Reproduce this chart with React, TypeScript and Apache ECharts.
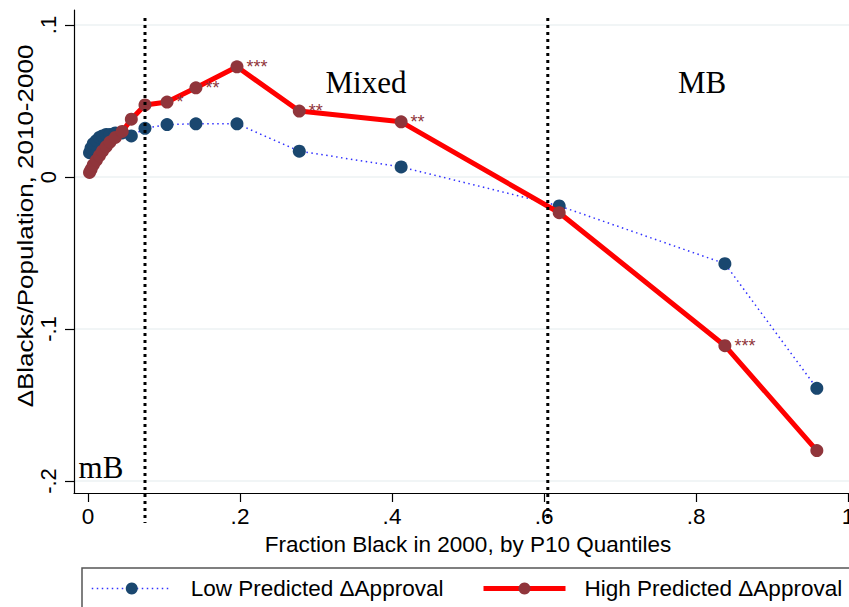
import React, { useEffect, useRef } from "react";
import * as echarts from "echarts";

// ---- data ----
const xValues = [
  0.002, 0.004, 0.007, 0.011, 0.015, 0.019, 0.024, 0.029, 0.036, 0.045,
  0.057, 0.075, 0.104, 0.142, 0.196, 0.278, 0.412, 0.62, 0.838, 0.959,
];
const lowValues = [
  0.016, 0.019, 0.022, 0.024, 0.026, 0.027, 0.028, 0.028, 0.029, 0.029,
  0.027, 0.032, 0.0345, 0.035, 0.035, 0.017, 0.0066, -0.019, -0.057, -0.139,
];
const highValues = [
  0.003, 0.005, 0.008, 0.011, 0.014, 0.017, 0.02, 0.023, 0.026, 0.03,
  0.038, 0.0474, 0.0493, 0.0587, 0.0725, 0.0434, 0.0363, -0.0235, -0.111, -0.18,
];
const highStars = [
  "", "", "", "", "", "", "", "", "", "",
  "", "", "*", "**", "***", "**", "**", "", "***", "",
];
const xTicks = [0, 0.2, 0.4, 0.6, 0.8, 1];
const yTicks = [-0.2, -0.1, 0, 0.1];
const regionCutoffs = [0.075, 0.605];
const lowName = "Low Predicted \u0394Approval";
const highName = "High Predicted \u0394Approval";
const xTitle = "Fraction Black in 2000, by P10 Quantiles";
const yTitle = "\u0394Blacks/Population, 2010-2000";

const X_MIN = -0.01842;
const X_MAX = 1.01842;
const Y_MIN = -0.20789;
const Y_MAX = 0.10987;

const SANS = "'Liberation Sans', Arial, Helvetica, sans-serif";
const SERIF = "'Liberation Serif', 'Times New Roman', serif";

const fmt = (v: number) =>
  v === 0 ? "0" : (v < 0 ? "-" : "") + String(Math.abs(v)).replace(/^0/, "");

export default function App() {
  const ref = useRef<HTMLDivElement>(null);

  useEffect(() => {
    if (!ref.current) return;
    const chart = echarts.init(ref.current, null, { renderer: "svg" });
    const legendText = { fontSize: 22.5, color: "#000", fontFamily: SANS, padding: [0, 0, 0, 14] };
    const option: any = {
      animation: false,
      backgroundColor: "#ffffff",
      grid: { left: 74, top: 10, width: 788, height: 483, containLabel: false, outerBoundsMode: "none" },
      xAxis: {
        type: "value",
        min: X_MIN,
        max: X_MAX,
        axisLine: { show: true, onZero: false, lineStyle: { color: "#000", width: 1.2 } },
        axisTick: { show: true, length: 9, customValues: xTicks, lineStyle: { color: "#000", width: 1.2 } },
        axisLabel: {
          customValues: xTicks,
          formatter: fmt,
          fontSize: 22.5,
          color: "#000",
          margin: 12,
          fontFamily: SANS,
        },
        splitLine: { show: false },
        name: xTitle,
        nameLocation: "middle",
        nameGap: 36,
        nameTextStyle: { fontSize: 22.5, color: "#000", fontFamily: SANS },
      },
      yAxis: {
        type: "value",
        min: Y_MIN,
        max: Y_MAX,
        axisLine: { show: true, onZero: false, lineStyle: { color: "#000", width: 1.2 } },
        axisTick: { show: true, length: 9, customValues: yTicks, lineStyle: { color: "#000", width: 1.2 } },
        axisLabel: {
          customValues: yTicks,
          formatter: fmt,
          rotate: 90,
          fontSize: 22,
          color: "#000",
          margin: 15,
          fontFamily: SANS,
        },
        splitLine: { show: false },
      },
      legend: [
        {
          left: 91,
          top: 577,
          padding: 0,
          itemWidth: 80,
          itemHeight: 15,
          selectedMode: false,
          textStyle: legendText,
          lineStyle: { width: 1.5 },
          data: [lowName],
        },
        {
          left: 481,
          top: 577,
          padding: 0,
          itemWidth: 82,
          itemHeight: 15,
          selectedMode: false,
          textStyle: legendText,
          lineStyle: { width: 5 },
          data: [highName],
        },
      ],
      series: [
        {
          type: "line",
          name: lowName,
          data: xValues.map((x, i) => [x, lowValues[i]]),
          symbol: "circle",
          symbolSize: 13,
          itemStyle: { color: "#1a476f", borderWidth: 0 },
          lineStyle: { color: "#3030ff", width: 1.5, type: [1.5, 3.5] },
          z: 2,
        },
        {
          type: "line",
          name: highName,
          data: xValues.map((x, i) => [x, highValues[i]]),
          symbol: "circle",
          symbolSize: 13,
          itemStyle: { color: "#90353b", borderWidth: 0 },
          lineStyle: { color: "#ff0000", width: 5 },
          label: {
            show: true,
            position: "right",
            distance: 3,
            formatter: (p: any) => highStars[p.dataIndex],
            color: "#90353b",
            fontSize: 18,
            fontFamily: SANS,
          },
          z: 3,
        },
      ],
    };
    chart.setOption(option);

    const px = (x: number, y: number) => chart.convertToPixel({ gridIndex: 0 }, [x, y]) as number[];
    const [gxL] = px(X_MIN, 0);
    const [gxR] = px(X_MAX, 0);
    const graphics: any[] = [];
    yTicks.forEach((v) => {
      const [, gy] = px(0, v);
      graphics.push({
        type: "line",
        z: 0,
        silent: true,
        shape: { x1: gxL + 1, y1: gy, x2: gxR, y2: gy },
        style: { stroke: "#e3ebee", lineWidth: 1.2 },
      });
    });
    regionCutoffs.forEach((v) => {
      const [gx] = px(v, 0);
      graphics.push({
        type: "line",
        z: 10,
        silent: true,
        shape: { x1: gx, y1: 18, x2: gx, y2: 523 },
        style: { stroke: "#000", lineWidth: 3, lineDash: [3, 4] },
      });
    });
    // region annotations
    graphics.push(
      { type: "text", z: 10, x: 366, y: 82, style: { text: "Mixed", font: `31px ${SERIF}`, fill: "#000", textAlign: "center", textVerticalAlign: "middle" } },
      { type: "text", z: 10, x: 702, y: 82, style: { text: "MB", font: `31px ${SERIF}`, fill: "#000", textAlign: "center", textVerticalAlign: "middle" } },
      { type: "text", z: 10, x: 101, y: 467, style: { text: "mB", font: `31px ${SERIF}`, fill: "#000", textAlign: "center", textVerticalAlign: "middle" } },
      // y axis title
      { type: "text", z: 10, x: 25, y: 226, rotation: Math.PI / 2, scaleY: 0.87, style: { text: yTitle, font: `26px ${SANS}`, fill: "#000", textAlign: "center", textVerticalAlign: "middle" } },
      // legend box
      { type: "rect", z: 1, silent: true, shape: { x: 82, y: 568, width: 800, height: 80 }, style: { fill: "none", stroke: "#555", lineWidth: 1.5 } }
    );
    chart.setOption({ graphic: graphics });

    return () => chart.dispose();
  }, []);

  return (
    <div
      ref={ref}
      style={{ position: "absolute", left: 0, top: 0, width: 849, height: 607, overflow: "hidden" }}
    />
  );
}
